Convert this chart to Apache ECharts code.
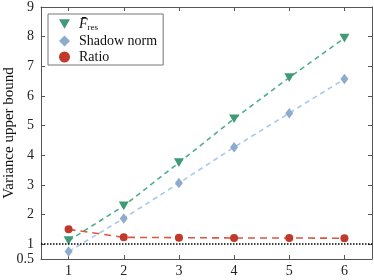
<!DOCTYPE html>
<html><head><meta charset="utf-8">
<script src="https://cdn.jsdelivr.net/npm/echarts@6/dist/echarts.min.js"></script>
<style>html,body{margin:0;padding:0;background:#fff}#c{width:374px;height:280px}</style>
</head><body><div id="c"></div>
<script>
const xValues = [1, 2, 3, 4, 5, 6];
const fresValues = [1.12, 2.29, 3.75, 5.23, 6.62, 7.95];
const shadowValues = [0.75, 1.87, 3.06, 4.27, 5.42, 6.57];
const ratioValues = [1.50, 1.23, 1.22, 1.21, 1.21, 1.20];
const yTicks = [0.5, 1, 2, 3, 4, 5, 6, 7, 8, 9];
const xTicks = [1, 2, 3, 4, 5, 6];
const seriesNames = ['Fres', 'Shadow norm', 'Ratio'];

const FONT = 'Liberation Serif';
const LFONT = "'Liberation Serif', serif";
const TRI = 'path://M0,0 L10,0 L5,8.7 Z';
const pairs = v => xValues.map((x, i) => [x, v[i]]);
const legText = {fontFamily: LFONT, fontSize: 14, color: '#111'};

const chart = echarts.init(document.getElementById('c'));
const axisLine = {show: true, lineStyle: {color: '#555', width: 1}};
chart.setOption({
  animation: false,
  textStyle: {fontFamily: FONT},
  grid: {left: 41, right: 2, top: 7, bottom: 21, outerBoundsMode: 'none', containLabel: false},
  legend: {
    left: 48, top: 14, orient: 'vertical', itemGap: 2,
    padding: [3, 6, 1, 11],
    borderColor: '#777', borderWidth: 1, borderRadius: 0,
    backgroundColor: '#fff',
    itemWidth: 11, itemHeight: 11,
    textStyle: {fontFamily: LFONT, fontSize: 14, color: '#111', padding: [0, 0, 0, 4],
      rich: {f: {fontFamily: LFONT, fontStyle: 'italic', fontSize: 14, color: '#111'},
             n: legText,
             s: {fontFamily: LFONT, fontSize: 9, color: '#111', verticalAlign: 'bottom', padding: [7, 0, 0, 0]}}},
    formatter: n => n === 'Fres' ? '{f|F\u0304}{s|res}' : '{n|' + n + '}',
    data: [
      {name: 'Fres', icon: TRI, textStyle: {fontFamily: LFONT}},
      {name: 'Shadow norm', icon: 'diamond', textStyle: {fontFamily: LFONT}},
      {name: 'Ratio', icon: 'circle', textStyle: {fontFamily: LFONT}}
    ]
  },
  xAxis: [{
    type: 'value', min: 0.5, max: 6.5, position: 'bottom',
    axisLine: axisLine, splitLine: {show: false},
    axisTick: {show: true, inside: true, length: 4, customValues: xTicks, lineStyle: {color: '#555'}},
    axisLabel: {customValues: xTicks, fontFamily: FONT, fontSize: 14, color: '#222', margin: 5}
  }, {
    type: 'value', min: 0.5, max: 6.5, position: 'top',
    axisLine: axisLine, splitLine: {show: false},
    axisTick: {show: true, inside: true, length: 4, customValues: xTicks, lineStyle: {color: '#555'}},
    axisLabel: {show: false}
  }],
  yAxis: [{
    type: 'value', min: 0.5, max: 9, position: 'left',
    name: 'Variance upper bound', nameLocation: 'middle', nameGap: 24, nameMoveOverlap: false,
    nameTextStyle: {fontFamily: FONT, fontSize: 15, color: '#111'},
    axisLine: axisLine, splitLine: {show: false},
    axisTick: {show: true, inside: true, length: 4, customValues: yTicks, lineStyle: {color: '#555'}},
    axisLabel: {customValues: yTicks, fontFamily: FONT, fontSize: 14, color: '#222', margin: 7}
  }, {
    type: 'value', min: 0.5, max: 9, position: 'right',
    axisLine: axisLine, splitLine: {show: false},
    axisTick: {show: true, inside: true, length: 4, customValues: yTicks, lineStyle: {color: '#555'}},
    axisLabel: {show: false}
  }],
  series: [{
    name: 'Fres', type: 'line', data: pairs(fresValues),
    symbol: TRI, symbolSize: [10, 8.7],
    itemStyle: {color: '#3f9a78'},
    lineStyle: {color: '#4fb088', width: 1.6, type: [5, 4]},
    z: 3
  }, {
    name: 'Shadow norm', type: 'line', data: pairs(shadowValues),
    symbol: 'diamond', symbolSize: [8, 10.5],
    itemStyle: {color: '#8eabcc'},
    lineStyle: {color: '#a8c8ea', width: 1.6, type: [5, 4]},
    z: 3
  }, {
    name: 'Ratio', type: 'line', data: pairs(ratioValues),
    symbol: 'circle', symbolSize: 8,
    itemStyle: {color: '#c0392b'},
    lineStyle: {color: '#dd5544', width: 1.6, type: [7, 5]},
    z: 4,
    markLine: {
      silent: true, symbol: 'none', label: {show: false},
      lineStyle: {color: '#000', type: [1.5, 1.5], width: 1.5},
      data: [{yAxis: 1}]
    }
  }]
});
</script></body></html>
